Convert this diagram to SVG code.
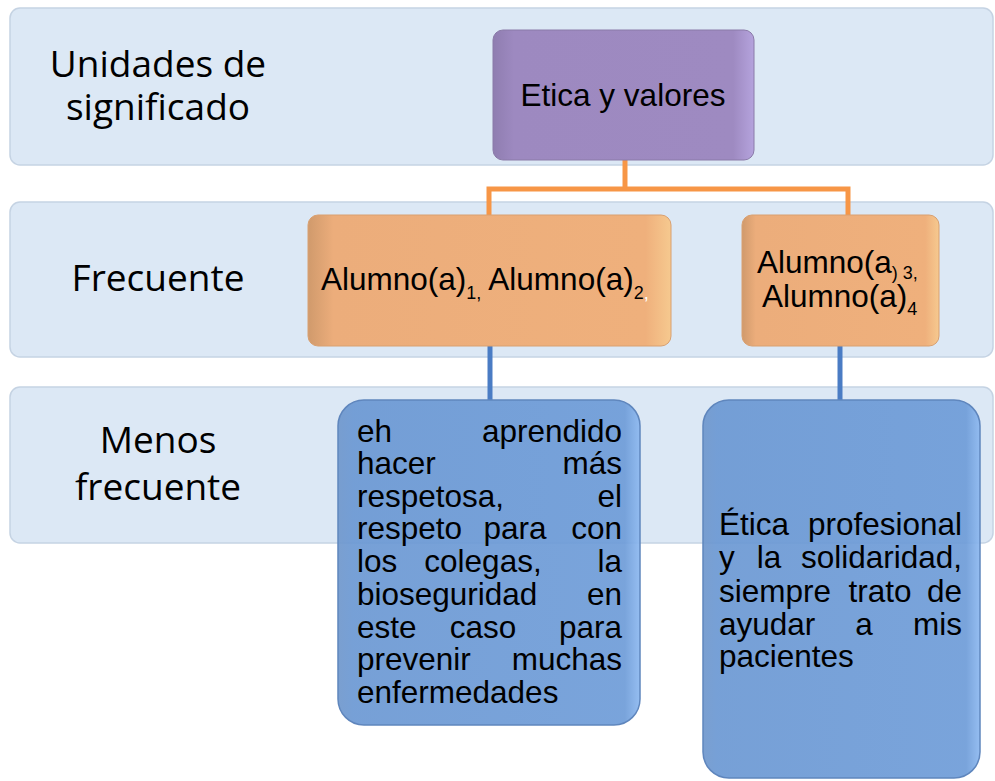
<svg xmlns="http://www.w3.org/2000/svg" width="995" height="781" viewBox="0 0 995 781">
<style>
.band{fill:#dce8f5;stroke:#c5d3e3;stroke-width:1.5}
.lbl{font-family:"Open Sans","Liberation Sans",sans-serif;font-size:37px;fill:#000;text-anchor:middle}
.t{font-family:"Liberation Sans",Arial,sans-serif;font-size:31.5px;fill:#000}
.sub{font-size:18px}
.org{stroke:#f79646;stroke-width:5;fill:none}
.blu{stroke:#4a7cc4;stroke-width:5;fill:none}
</style>
<defs>
<linearGradient id="gP" x1="0" y1="0" x2="1" y2="0">
<stop offset="0" stop-color="#8f7db0"/><stop offset="0.08" stop-color="#9d89c0"/><stop offset="0.92" stop-color="#9e8ac1"/><stop offset="1" stop-color="#b5a3dd"/>
</linearGradient>
<linearGradient id="gO" x1="0" y1="0" x2="1" y2="0">
<stop offset="0" stop-color="#d09a6c"/><stop offset="0.07" stop-color="#ecad7b"/><stop offset="0.93" stop-color="#efb07c"/><stop offset="1" stop-color="#f6c98f"/>
</linearGradient>
<linearGradient id="gB" x1="0" y1="0" x2="1" y2="0">
<stop offset="0" stop-color="#6f97cc"/><stop offset="0.05" stop-color="#6b98d3"/><stop offset="0.95" stop-color="#6e9cd8"/><stop offset="1" stop-color="#8cb8f0"/>
</linearGradient>
</defs>
<g id="bands">
<rect class="band" x="10" y="8" width="983" height="157" rx="10"/>
<rect class="band" x="10" y="202" width="983" height="155" rx="10"/>
<rect class="band" x="10" y="387" width="983" height="156" rx="10"/>
</g>
<g id="row-labels">
<text class="lbl" x="158" y="77">Unidades de</text>
<text class="lbl" x="158" y="120">significado</text>
<text class="lbl" x="158" y="291">Frecuente</text>
<text class="lbl" x="158" y="453">Menos</text>
<text class="lbl" x="158" y="500">frecuente</text>
</g>
<g id="connectors">
<path class="org" d="M625 160 V189" stroke-width="7"/>
<path class="org" d="M489 215 V189 H848 V215"/>
<path class="blu" d="M490 346 V400"/>
<path class="blu" d="M840 346 V400"/>
</g>
<g id="node-etica">
<rect x="493" y="30" width="261" height="130" rx="10" fill="url(#gP)" stroke="#8a7aa8" stroke-width="1"/>
<text class="t" x="623" y="106" text-anchor="middle">Etica y valores</text>
</g>
<g id="node-frec1">
<rect x="308" y="215" width="363" height="131" rx="10" fill="url(#gO)" stroke="#d9a070" stroke-width="1"/>
<text class="t" x="321" y="290">Alumno(a)<tspan class="sub" dy="9">1,</tspan><tspan dy="-9"> Alumno(a)</tspan><tspan class="sub" dy="9">2</tspan><tspan class="sub" fill="#fff">,</tspan></text>
</g>
<g id="node-frec2">
<rect x="742" y="215" width="197" height="131" rx="10" fill="url(#gO)" stroke="#d9a070" stroke-width="1"/>
<text class="t" x="757" y="273">Alumno(a<tspan class="sub" dy="6">) 3,</tspan></text>
<text class="t" x="762" y="307">Alumno(a)<tspan class="sub" dy="8">4</tspan></text>
</g>
<g id="node-menos1">
<rect x="338" y="400" width="302" height="325" rx="26" fill="url(#gB)" fill-opacity="0.92" stroke="#5f86bd" stroke-width="1.5"/>
<g class="t">
<text x="357" y="442">eh</text><text x="622" y="442" text-anchor="end">aprendido</text>
<text x="357" y="474">hacer</text><text x="622" y="474" text-anchor="end">más</text>
<text x="357" y="507">respetosa,</text><text x="622" y="507" text-anchor="end">el</text>
<text x="357" y="539">respeto</text><text x="515" y="539" text-anchor="middle">para</text><text x="622" y="539" text-anchor="end">con</text>
<text x="357" y="572">los</text><text x="483" y="572" text-anchor="middle">colegas,</text><text x="622" y="572" text-anchor="end">la</text>
<text x="357" y="605">bioseguridad</text><text x="622" y="605" text-anchor="end">en</text>
<text x="357" y="638">este</text><text x="483" y="638" text-anchor="middle">caso</text><text x="622" y="638" text-anchor="end">para</text>
<text x="357" y="670">prevenir</text><text x="622" y="670" text-anchor="end">muchas</text>
<text x="357" y="703">enfermedades</text>
</g>
</g>
<g id="node-menos2">
<rect x="703" y="400" width="277" height="378" rx="26" fill="url(#gB)" fill-opacity="0.92" stroke="#5f86bd" stroke-width="1.5"/>
<g class="t">
<text x="719" y="535">Ética</text><text x="962" y="535" text-anchor="end">profesional</text>
<text x="719" y="568">y</text><text x="769" y="568" text-anchor="middle">la</text><text x="962" y="568" text-anchor="end">solidaridad,</text>
<text x="719" y="602">siempre</text><text x="880" y="602" text-anchor="middle">trato</text><text x="962" y="602" text-anchor="end">de</text>
<text x="719" y="635">ayudar</text><text x="864" y="635" text-anchor="middle">a</text><text x="962" y="635" text-anchor="end">mis</text>
<text x="719" y="667">pacientes</text>
</g>
</g>
</svg>
